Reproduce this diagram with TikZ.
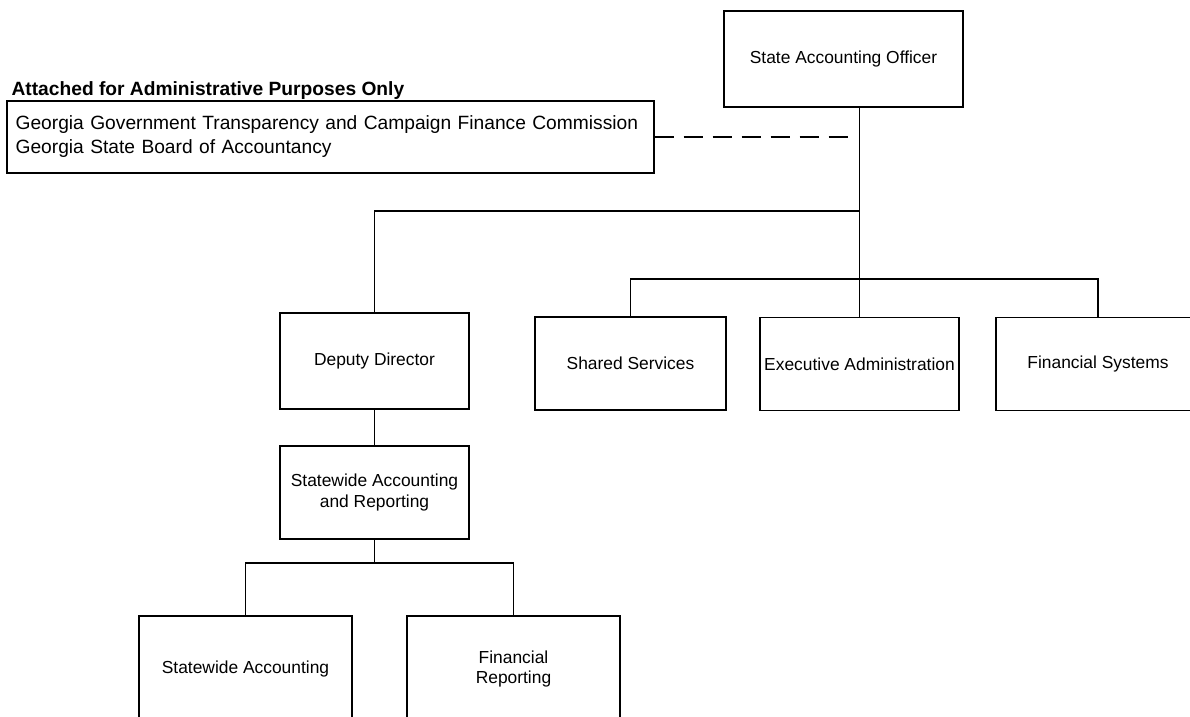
\documentclass[tikz,border=0pt]{standalone}
\usepackage{fontspec}
\setmainfont{Liberation Sans}
\begin{document}
\begin{tikzpicture}[x=0.5pt, y=-0.5pt, line width=0.6pt,
		unit/.style={draw, align=center, inner sep=2pt, font=\fontsize{8.7}{10.4}\selectfont},
		dashline/.style={dash pattern=on 9.5pt off 5pt}]
				% \draw[help lines] (0,0) grid (1190,717);
				\clip (0,0) rectangle (1190,717);

				\node (head) at (11,91) [anchor=west, inner sep=0pt, font=\fontsize{9.6}{12}\selectfont\bfseries] {Attached for Administrative Purposes Only};
				\node (attached) at (330.5,137) [draw, text width=314.9pt, inner xsep=4.3pt, minimum height=36pt, align=left, font=\fontsize{9.6}{12}\selectfont] {Georgia Government Transparency and Campaign Finance Commission\\Georgia State Board of Accountancy};

				\node (sao) at (843.5,59) [unit, minimum width=119.5pt, minimum height=48pt] {State Accounting Officer};
				\node (deputy) at (374.5,361) [unit, minimum width=94.5pt, minimum height=48pt] {Deputy Director};
				\node (shared) at (630.5,363.5) [unit, minimum width=95.5pt, minimum height=46.5pt] {Shared Services};
				\node (exec) at (859.5,364) [unit, minimum width=99.5pt, minimum height=46.5pt] {Executive Administration};
				\node (finsys) at (1098,364) [unit, minimum width=102pt, minimum height=46.5pt] {Financial Systems};
				\node (swar) at (374.5,492.5) [unit, minimum width=94.5pt, minimum height=46.5pt] {Statewide Accounting\\and Reporting};
				\node (swacct) at (245.5,669) [unit, minimum width=106.5pt, minimum height=53pt] {Statewide Accounting};
				\node (finrep) at (513.5,669) [unit, minimum width=106.5pt, minimum height=53pt] {Financial\\Reporting};

				\coordinate (hub) at (859.5,211);
				\coordinate (bar) at (859.5,279);
				\coordinate (fork) at (374.5,563);
				\coordinate (dashend) at (851,137);

				\draw (sao.south -| exec.north) -- (exec.north);
				\draw[dashline] (attached.east) -- (dashend);
				\draw (deputy.north) |- (hub);
				\draw (shared.north) |- (bar) -| (finsys.north);
				\draw (deputy) -- (swar);
				\draw (swar.south) -- (fork);
				\draw (swacct.north) |- (fork) -| (finrep.north);
			\end{tikzpicture}
\end{document}
